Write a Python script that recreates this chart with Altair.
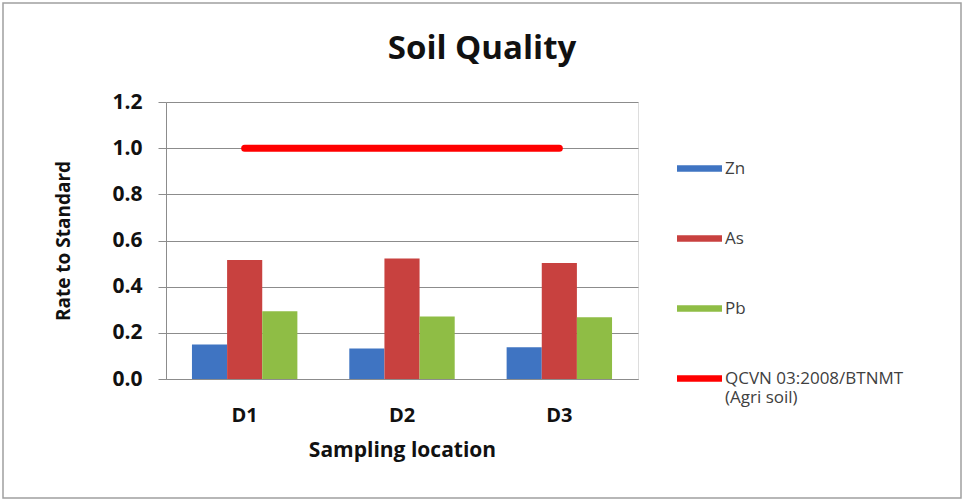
import altair as alt
import pandas as pd

locations = ["D1", "D2", "D3"]
metals = ["Zn", "As", "Pb"]
zn = [0.15, 0.132, 0.138]
as_ = [0.515, 0.522, 0.503]
pb = [0.294, 0.271, 0.268]
standard_name = "QCVN 03:2008/BTNMT (Agri soil)"
standard_value = 1.0
series_order = metals + [standard_name]
series_colors = ["#3F74C2", "#C8413F", "#8FBD45", "#FF0000"]

rows = []
for i, loc in enumerate(locations):
    for m, vals in zip(metals, [zn, as_, pb]):
        rows.append({"location": loc, "series": m, "value": vals[i]})
bars_df = pd.DataFrame(rows)
line_df = pd.DataFrame({
    "location": [locations[0], locations[-1]],
    "series": [standard_name, standard_name],
    "value": [standard_value, standard_value],
})

FONT = "Open Sans"
color = alt.Color(
    "series:N",
    scale=alt.Scale(domain=series_order, range=series_colors),
    legend=alt.Legend(
        title=None,
        orient="none",
        legendX=511,
        legendY=44,
        symbolType="M-1,-0.14L1,-0.14L1,0.14L-1,0.14Z",
        symbolSize=2025,
        symbolStrokeWidth=0,
        symbolOpacity=1,
        labelFont=FONT,
        labelFontSize=17,
        labelColor="#404040",
        labelOffset=3,
        labelLimit=400,
        rowPadding=39,
        labelExpr="datum.value == '" + standard_name + "' ? ['QCVN 03:2008/BTNMT', '(Agri soil)'] : datum.label",
    ),
)

x = alt.X(
    "location:N",
    sort=locations,
    scale=alt.Scale(paddingInner=0.33, paddingOuter=0.165),
    axis=alt.Axis(
        title="Sampling location",
        labelAngle=0,
        labelFont=FONT,
        labelFontSize=20,
        labelFontWeight="bold",
        labelColor="#111111",
        labelPadding=26,
        ticks=False,
        domainColor="#8c8c8c",
        titleFont=FONT,
        titleFontSize=21,
        titleFontWeight="bold",
        titleColor="#111111",
        titlePadding=14,
    ),
)
y_scale = alt.Scale(domain=[0, 1.2])
y_axis = alt.Axis(
    title="Rate to Standard",
    values=[0, 0.2, 0.4, 0.6, 0.8, 1.0, 1.2],
    format=".1f",
    labelFont=FONT,
    labelFontSize=21,
    labelFontWeight="bold",
    labelColor="#111111",
    labelPadding=16,
    tickSize=8,
    tickColor="#8c8c8c",
    domainColor="#8c8c8c",
    gridColor="#8c8c8c",
    titleFont=FONT,
    titleFontSize=19,
    titleFontWeight="bold",
    titleColor="#111111",
    titlePadding=38,
)

bars = alt.Chart(bars_df).mark_bar().encode(
    x=x,
    xOffset=alt.XOffset("series:N", sort=metals, scale=alt.Scale(paddingInner=0, paddingOuter=0)),
    y=alt.Y("value:Q", scale=y_scale, axis=y_axis),
    color=color,
)

line = alt.Chart(line_df).mark_line(strokeWidth=7, strokeCap="round").encode(
    x=alt.X("location:N", sort=locations),
    y=alt.Y("value:Q", scale=y_scale),
    color=alt.Color("series:N"),
)

frame = alt.Chart(pd.DataFrame({"a": [0]})).mark_rect(
    fill=None, stroke="#a0a0a0", strokeWidth=1.5, clip=False
).encode(
    x=alt.value(-163), x2=alt.value(795), y=alt.value(-99), y2=alt.value(396)
)

chart = alt.layer(bars, line, frame).properties(
    width=472,
    height=277,
    title=alt.TitleParams(
        "Soil Quality",
        font=FONT,
        fontSize=33,
        fontWeight="bold",
        color="#111111",
        anchor="middle",
        dx=80,
        offset=-64,
    ),
    autosize=alt.AutoSizeParams(type="none"),
    padding={"left": 166, "top": 102, "right": 326, "bottom": 121},
).configure_view(stroke=None).configure(background="white")

chart.save("out.html", embed_options={"renderer": "svg", "actions": False})
